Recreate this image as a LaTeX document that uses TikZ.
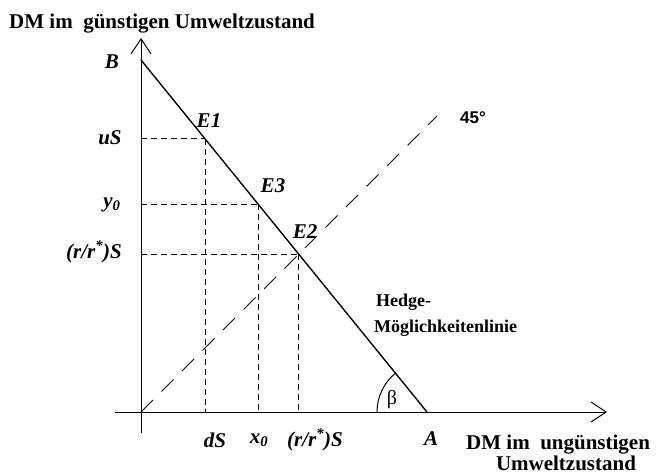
\documentclass[tikz,border=0pt]{standalone}
\usepackage{fontspec}
\setmainfont{Liberation Serif}
\newfontfamily\lsans{Liberation Sans}
\usetikzlibrary{arrows.meta,calc}
\begin{document}
\begin{tikzpicture}[x=1pt,y=1pt,
  axis/.style={line width=1pt,-{Straight Barb[length=15pt,width=20pt,line width=1pt]}},
  hline/.style={line width=1.4pt},
  dashline/.style={line width=0.9pt,dash pattern=on 6pt off 4pt},
  longdash/.style={line width=0.9pt,dash pattern=on 17pt off 12pt},
  lab/.style={font=\fontsize{21}{21}\selectfont\bfseries\itshape,inner sep=0pt},
  txt/.style={font=\fontsize{21}{21}\selectfont\bfseries,inner sep=0pt},
  small/.style={font=\fontsize{18}{18}\selectfont\bfseries,inner sep=0pt}]
\useasboundingbox (0,0) rectangle (664,-474);
% key points
\coordinate (O) at (141,-412);
\coordinate (B) at (141,-60);
\coordinate (A) at (427,-412);
\coordinate (E1) at ($(B)!0.2238!(A)$);
\coordinate (E3) at ($(B)!0.4091!(A)$);
\coordinate (E2) at ($(B)!0.5517!(A)$);
\coordinate (ytop) at (141,-38);
\coordinate (ybot) at (141,-433);
\coordinate (xl) at (115,-412);
\coordinate (xr) at (607,-412);
\coordinate (d45) at (437,-116);
% axes
\draw[axis] (ybot) -- (ytop);
\draw[axis] (xl) -- (xr);
% hedge line
\draw[hline] (B) -- (A);
% 45 degree line
\draw[longdash] (O) -- (d45);
% projections
\foreach \p in {E1,E3,E2}{
  \draw[dashline] (O |- \p) -- (\p);
  \draw[dashline] (\p) -- (\p |- O);
}
% beta arc
\draw[line width=1pt] ($(A)+(-50,0)$) arc[start angle=180,end angle=129.1,radius=50];
% labels
\node[txt,anchor=base west] (title) at (9,-28) {DM im\ \ günstigen Umweltzustand};
\node[lab] (lB) at (112,-62) {B};
\node[lab] (luS) at (110,-138) {uS};
\node[lab] (ly0) at (112,-205) {y\textsubscript{0}};
\node[lab,anchor=east] (lr1) at (122,-252) {(r/r\textsuperscript{*})S};
\node[lab] (lE1) at (209,-121) {E1};
\node[lab] (lE3) at (273,-186) {E3};
\node[lab] (lE2) at (305,-232) {E2};
\node[lab] (ldS) at (215,-440) {dS};
\node[lab] (lx0) at (259,-440) {x\textsubscript{0}};
\node[lab] (lr2) at (315,-440) {(r/r\textsuperscript{*})S};
\node[lab] (lA) at (431,-439) {A};
\node[font=\lsans\fontsize{17}{17}\selectfont\bfseries,inner sep=0pt] (l45) at (473,-118) {45°};
\node[small,anchor=base west] (hedge1) at (376,-306) {Hedge-};
\node[small,anchor=base west] (hedge2) at (374,-332) {Möglichkeitenlinie};
\node[font=\fontsize{20}{20}\selectfont,inner sep=0pt] (beta) at (392,-400) {β};
\node[txt,anchor=base west] (xl1) at (466,-449) {DM im\ \ ungünstigen};
\node[txt,anchor=base] (xl2) at (566,-470) {Umweltzustand};
\end{tikzpicture}
\end{document}
